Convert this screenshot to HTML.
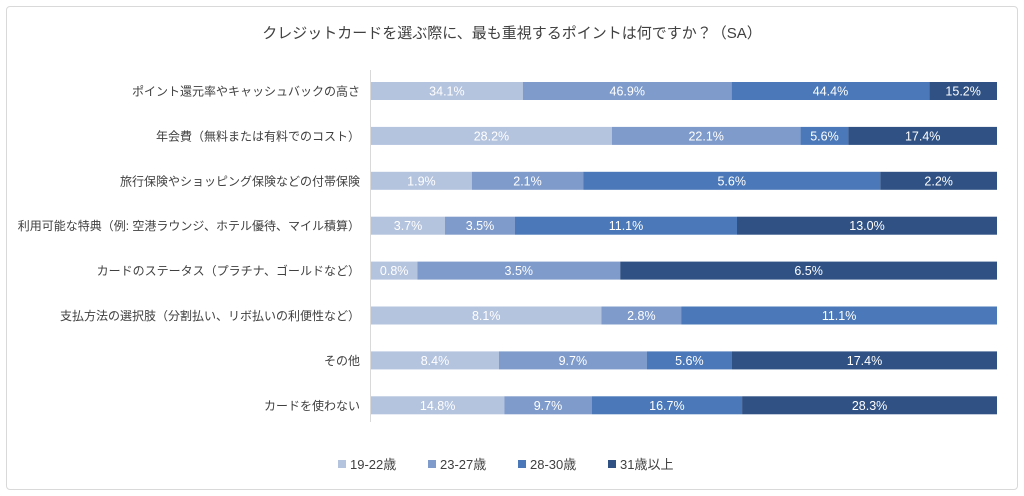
<!DOCTYPE html>
<html><head><meta charset="utf-8">
<style>
body{margin:0;background:#fff;font-family:"Liberation Sans","Noto Sans CJK JP",sans-serif;}
#frame{position:absolute;left:6px;top:6px;width:1010px;height:482px;border:1px solid #d9d9d9;border-radius:4px;}
</style></head><body>
<div id="frame"></div>
<svg id="chart" width="1024" height="496" style="position:absolute;left:0;top:0">
<text x="512" y="38" text-anchor="middle" font-size="15" fill="#404040">クレジットカードを選ぶ際に、最も重視するポイントは何ですか？（SA）</text>
<line x1="370.5" y1="70" x2="370.5" y2="422" stroke="#d9d9d9"/>
<g id="bars"></g>
<g id="legend"></g>
</svg>
<script>
const categories=["ポイント還元率やキャッシュバックの高さ","年会費（無料または有料でのコスト）","旅行保険やショッピング保険などの付帯保険","利用可能な特典（例: 空港ラウンジ、ホテル優待、マイル積算）","カードのステータス（プラチナ、ゴールドなど）","支払方法の選択肢（分割払い、リボ払いの利便性など）","その他","カードを使わない"];
const seriesNames=["19-22歳","23-27歳","28-30歳","31歳以上"];
const s1=[34.1,28.2,1.9,3.7,0.8,8.1,8.4,14.8];
const s2=[46.9,22.1,2.1,3.5,3.5,2.8,9.7,9.7];
const s3=[44.4,5.6,5.6,11.1,0,11.1,5.6,16.7];
const s4=[15.2,17.4,2.2,13.0,6.5,0,17.4,28.3];
const colors=["#b4c3de","#7f9bcb","#4a78b8","#2f5184"];
const NS="http://www.w3.org/2000/svg";
const x0=371,x1=997,yTop=91,pitch=44.9,bh=18;
const xScale=f=>x0+f*(x1-x0);
const yScale=i=>yTop+i*pitch;
const bars=document.getElementById('bars');
const series=[s1,s2,s3,s4];
categories.forEach((c,i)=>{
  const y=yScale(i);
  const lab=document.createElementNS(NS,'text');
  
  
  lab.setAttribute('x',360);lab.setAttribute('y',y+4.5);
  lab.setAttribute('text-anchor','end');lab.setAttribute('font-size','12');lab.setAttribute('fill','#404040');
  lab.textContent=c;bars.appendChild(lab);
  const tot=series.reduce((a,s)=>a+s[i],0);
  let acc=0;
  series.forEach((s,k)=>{
    const v=s[i];if(!v)return;
    const xa=xScale(acc/tot),xb=xScale((acc+v)/tot);acc+=v;
    const r=document.createElementNS(NS,'rect');
    
    
    r.setAttribute('x',xa);r.setAttribute('y',y-bh/2);r.setAttribute('width',xb-xa);r.setAttribute('height',bh);
    r.setAttribute('fill',colors[k]);bars.appendChild(r);
    const t=document.createElementNS(NS,'text');
    
    
    t.setAttribute('x',(xa+xb)/2);t.setAttribute('y',y+4.5);t.setAttribute('text-anchor','middle');
    t.setAttribute('font-size','12.5');t.setAttribute('fill','#fff');
    t.textContent=v.toFixed(1)+'%';bars.appendChild(t);
  });
});
const lg=document.getElementById('legend');
const lx=[338,428,518,608];
seriesNames.forEach((n,k)=>{
  const r=document.createElementNS(NS,'rect');
  
  
  r.setAttribute('x',lx[k]);r.setAttribute('y',460);r.setAttribute('width',8);r.setAttribute('height',8);
  r.setAttribute('fill',colors[k]);lg.appendChild(r);
  const t=document.createElementNS(NS,'text');
  
  
  t.setAttribute('x',lx[k]+12);t.setAttribute('y',469);t.setAttribute('font-size','13');t.setAttribute('fill','#404040');
  t.textContent=n;lg.appendChild(t);
});
</script>
</body></html>
